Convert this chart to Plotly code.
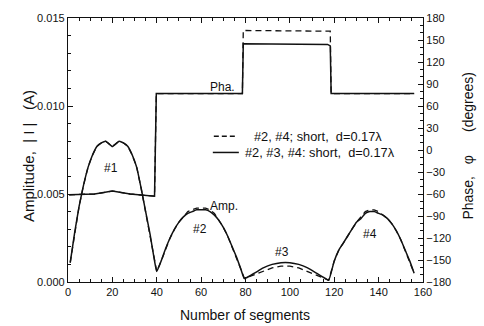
import plotly.graph_objects as go

# ---------------- data ----------------
# Amplitude (A) versus segment number
amp_x = [1, 3, 5, 7, 9, 11, 13, 15, 17, 18, 20, 22, 23, 25, 27, 29, 31, 33, 35, 37, 39, 40,
         42, 44, 46, 48, 50, 52, 54, 56, 58, 60, 62, 64, 66, 68, 70, 72, 74, 76, 78, 79.5,
         84, 88, 92, 96, 100, 104, 108, 112, 116, 117.5,
         120, 122, 124, 126, 128, 130, 132, 134, 136, 138, 140, 142, 144, 146, 148, 150, 152, 154, 156]
amp_solid = [0.0011, 0.0028, 0.0043, 0.0055, 0.0065, 0.0072, 0.0077, 0.0079, 0.0080, 0.0079, 0.0077, 0.0079, 0.0080, 0.0079, 0.0077, 0.0072, 0.0065, 0.0053, 0.0040, 0.0027, 0.0012, 0.0006,
             0.0012, 0.0019, 0.0025, 0.0030, 0.0034, 0.0037, 0.0039, 0.0040, 0.0041, 0.0041, 0.0041, 0.0040, 0.0038, 0.0035, 0.0031, 0.0026, 0.0020, 0.0014, 0.0007, 0.0002,
             0.0005, 0.0008, 0.0010, 0.0011, 0.0011, 0.0010, 0.0008, 0.0005, 0.0002, 0.0001,
             0.0012, 0.0018, 0.0022, 0.0026, 0.0030, 0.0034, 0.0036, 0.0039, 0.0040, 0.0040, 0.0039, 0.0038, 0.0036, 0.0033, 0.0029, 0.0024, 0.0018, 0.0012, 0.0005]
amp_dashed = [0.0011, 0.0028, 0.0043, 0.0055, 0.0065, 0.0072, 0.0077, 0.0079, 0.0080, 0.0079, 0.0077, 0.0079, 0.0080, 0.0079, 0.0077, 0.0072, 0.0065, 0.0053, 0.0040, 0.0027, 0.0012, 0.0006,
              0.0012, 0.0019, 0.0025, 0.0030, 0.0034, 0.0037, 0.0040, 0.0041, 0.0042, 0.0042, 0.0042, 0.0041, 0.0039, 0.0035, 0.0031, 0.0026, 0.0020, 0.0014, 0.0007, 0.0002,
              0.0004, 0.0006, 0.0008, 0.0009, 0.0009, 0.0008, 0.0006, 0.0004, 0.0002, 0.0001,
              0.0012, 0.0018, 0.0022, 0.0026, 0.0030, 0.0034, 0.0037, 0.0040, 0.0041, 0.0041, 0.0040, 0.0038, 0.0036, 0.0033, 0.0029, 0.0024, 0.0018, 0.0012, 0.0005]

# Phase (degrees) versus segment number
pha_x = [0.5, 12, 20, 28, 39, 39.8, 60, 78.6, 79, 100, 117, 118.2, 118.6, 140, 156]
pha_solid = [-61, -60, -56, -60, -63, 77, 77, 77, 145, 145, 144, 142, 77, 77, 77]
pha_dashed = [-61, -60, -56, -60, -63, 77, 77, 77, 163, 163, 162, 162, 77, 77, 77]

x_ticks = [0, 20, 40, 60, 80, 100, 120, 140, 160]
amp_ticks = [0.000, 0.005, 0.010, 0.015]
pha_ticks = [-180, -150, -120, -90, -60, -30, 0, 30, 60, 90, 120, 150, 180]

legend_labels = ["#2, #4; short,  d=0.17\u03bb", "#2, #3, #4: short,  d=0.17\u03bb"]

# curve labels: (text, x, amplitude)
curve_labels = [("#1", 19.5, 0.0065), ("#2", 59.3, 0.0030), ("#3", 96.3, 0.0017),
                ("#4", 136, 0.0027), ("Amp.", 70.5, 0.0043), ("Pha.", 69.5, 0.0111)]

FONT = "Liberation Sans, Arial, Helvetica, sans-serif"
BLACK = "#111111"

fig = go.Figure()
fig.add_trace(go.Scatter(x=amp_x, y=amp_dashed, mode="lines", line=dict(color=BLACK, width=1.3, dash="6px,4px"),
                         showlegend=False, hoverinfo="skip"))
fig.add_trace(go.Scatter(x=amp_x, y=amp_solid, mode="lines", line=dict(color=BLACK, width=1.5, shape="spline", smoothing=0.4),
                         showlegend=False, hoverinfo="skip"))
fig.add_trace(go.Scatter(x=pha_x, y=pha_dashed, mode="lines", yaxis="y2", line=dict(color=BLACK, width=1.3, dash="6px,4px"),
                         showlegend=False, hoverinfo="skip"))
fig.add_trace(go.Scatter(x=pha_x, y=pha_solid, mode="lines", yaxis="y2", line=dict(color=BLACK, width=1.5),
                         showlegend=False, hoverinfo="skip"))

annotations = []
for t, xx, yy in curve_labels:
    annotations.append(dict(text=t, x=xx, y=yy, xref="x", yref="y", showarrow=False,
                            font=dict(family=FONT, size=12, color=BLACK), xanchor="center", yanchor="middle"))

# legend (manual)
def px2paper_x(px):
    return (px - 68.3) / (423 - 68.3)

def px2paper_y(py):
    return (281.7 - py) / (281.7 - 13.3)

shapes = [
    dict(type="line", xref="paper", yref="paper", x0=px2paper_x(214), x1=px2paper_x(236),
         y0=px2paper_y(133.5), y1=px2paper_y(133.5), line=dict(color=BLACK, width=1.3, dash="5px,3px")),
    dict(type="line", xref="paper", yref="paper", x0=px2paper_x(213), x1=px2paper_x(239),
         y0=px2paper_y(150), y1=px2paper_y(150), line=dict(color=BLACK, width=1.5)),
]
annotations.append(dict(text=legend_labels[0], xref="paper", yref="paper", x=px2paper_x(252), y=px2paper_y(133.5),
                        xanchor="left", yanchor="middle", showarrow=False, font=dict(family=FONT, size=12.8, color=BLACK)))
annotations.append(dict(text=legend_labels[1], xref="paper", yref="paper", x=px2paper_x(243), y=px2paper_y(150),
                        xanchor="left", yanchor="middle", showarrow=False, font=dict(family=FONT, size=12.8, color=BLACK)))

# axis titles
annotations.append(dict(text="Number of segments", xref="paper", yref="paper", x=px2paper_x(245.5), y=px2paper_y(315),
                        xanchor="center", yanchor="middle", showarrow=False, font=dict(family=FONT, size=14, color=BLACK)))
annotations.append(dict(text="Amplitude,\u00a0\u00a0|\u00a0I\u00a0|\u00a0\u00a0\u00a0(A)", xref="paper", yref="paper",
                        x=px2paper_x(29), y=px2paper_y(154), textangle=-90,
                        xanchor="center", yanchor="middle", showarrow=False, font=dict(family=FONT, size=15, color=BLACK)))
annotations.append(dict(text="Phase,\u00a0\u00a0\u00a0\u03c6\u00a0\u00a0\u00a0\u00a0\u00a0\u00a0(degrees)", xref="paper", yref="paper",
                        x=px2paper_x(468), y=px2paper_y(143), textangle=-90,
                        xanchor="center", yanchor="middle", showarrow=False, font=dict(family=FONT, size=14, color=BLACK)))

axis_common = dict(showgrid=False, zeroline=False, showline=True, linecolor=BLACK, linewidth=1.3,
                   ticks="inside", tickcolor=BLACK, tickwidth=1, ticklen=5,
                   tickfont=dict(family=FONT, size=11, color=BLACK))

fig.update_layout(
    width=484, height=326,
    margin=dict(l=68, r=61, t=13, b=44),
    paper_bgcolor="white", plot_bgcolor="white",
    showlegend=False,
    xaxis=dict(range=[0, 160], tickvals=x_ticks, mirror="ticks",
               minor=dict(dtick=5, ticks="inside", ticklen=3, tickcolor=BLACK),
               **axis_common),
    yaxis=dict(range=[0, 0.015], tickvals=amp_ticks, tickformat=".3f",
               minor=dict(dtick=0.001, ticks="inside", ticklen=3, tickcolor=BLACK),
               **axis_common),
    yaxis2=dict(range=[-180, 180], tickvals=pha_ticks, overlaying="y", side="right",
                minor=dict(dtick=10, ticks="inside", ticklen=3, tickcolor=BLACK),
                **axis_common),
    annotations=annotations,
    shapes=shapes,
)

fig.write_html("out.html")
